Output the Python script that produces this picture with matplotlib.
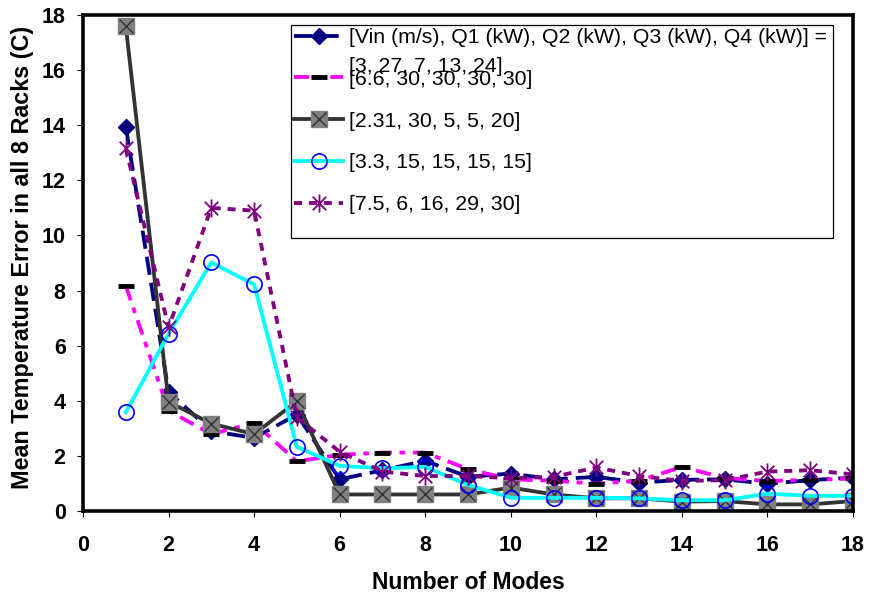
import matplotlib
matplotlib.use("Agg")
import matplotlib.pyplot as plt
from matplotlib.legend_handler import HandlerTuple
from matplotlib.patches import Rectangle
from matplotlib.path import Path

# ==========================================================
# Data
# ==========================================================

modes = list(range(1, 19))

labels = [
    "[Vin (m/s), Q1 (kW), Q2 (kW), Q3 (kW), Q4 (kW)] =",
    "[6.6, 30, 30, 30, 30]",
    "[2.31, 30, 5, 5, 20]",
    "[3.3, 15, 15, 15, 15]",
    "[7.5, 6, 16, 29, 30]",
]
first_label_cont = "[3, 27, 7, 13, 24]"

err_a = [13.95, 4.33, 2.9, 2.65, 3.5, 1.15, 1.48, 1.82, 1.24, 1.36,
         1.15, 1.24, 1.03, 1.13, 1.15, 0.99, 1.12, 1.21]
err_b = [8.17, 3.64, 2.79, 3.2, 1.8, 2.04, 2.12, 2.12, 1.52, 1.15,
         1.1, 0.99, 1.1, 1.6, 1.2, 1.09, 1.13, 1.18]
err_c = [17.6, 3.96, 3.17, 2.79, 3.98, 0.6, 0.6, 0.6, 0.6, 0.85,
         0.6, 0.46, 0.46, 0.34, 0.36, 0.24, 0.24, 0.36]
err_d = [3.58, 6.43, 9.02, 8.22, 2.33, 1.64, 1.55, 1.6, 0.95, 0.48,
         0.48, 0.48, 0.46, 0.39, 0.39, 0.63, 0.55, 0.55]
err_e = [13.17, 6.66, 11.0, 10.9, 3.4, 2.15, 1.43, 1.27, 1.27, 1.19,
         1.24, 1.58, 1.27, 1.09, 1.12, 1.43, 1.48, 1.33]

# ==========================================================
# Style
# ==========================================================

plt.rcParams["font.family"] = ["Liberation Sans", "DejaVu Sans"]

LW = 2.75
LEG_FS = 15.3

# Excel-like asterisk: vertical bar plus an X
star = Path(
    [(0, -1), (0, 1), (-0.75, -0.75), (0.75, 0.75), (-0.75, 0.75), (0.75, -0.75)],
    [Path.MOVETO, Path.LINETO, Path.MOVETO, Path.LINETO, Path.MOVETO, Path.LINETO],
)

fig = plt.figure(figsize=(8.71, 5.98), dpi=100)
ax = fig.add_axes([83 / 871, 1 - 511 / 598, 770 / 871, 496 / 598])

# ==========================================================
# Series
# ==========================================================

l1, = ax.plot(modes, err_a, color="#000080", lw=LW, dashes=(4.8, 2.1),
              marker="D", ms=8, mfc="#000080", mec="#000080")
l2, = ax.plot(modes, err_b, color="#FF00FF", lw=LW, dashes=(4, 2, 1.5, 2),
              marker="_", ms=12, mew=3.5, mec="black")
l3, = ax.plot(modes, err_c, color="#333333", lw=LW, marker="s", ms=11,
              mfc="#808080", mec="#808080")
l3x, = ax.plot(modes, err_c, ls="none", marker="x", ms=10, mew=1,
               mec="#333333")
l4, = ax.plot(modes, err_d, color="#00FFFF", lw=LW, marker="o", ms=11,
              mfc="none", mec="#0000FF", mew=1.2)
l5, = ax.plot(modes, err_e, color="#800080", lw=LW, dashes=(2.1, 1.8),
              marker=star, ms=13, mfc="none", mec="#800080", mew=1.3)

# ==========================================================
# Axes
# ==========================================================

ax.set_xlim(0, 18)
ax.set_ylim(0, 18)
ax.set_xticks(range(0, 19, 2))
ax.set_yticks(range(0, 19, 2))

for spine in ax.spines.values():
    spine.set_linewidth(2.6)

ax.tick_params(axis="both", direction="out", length=4.5, width=0.8,
               labelsize=15.5)
ax.tick_params(axis="x", pad=13)
ax.tick_params(axis="y", pad=8)
for lbl in ax.get_xticklabels() + ax.get_yticklabels():
    lbl.set_fontweight("bold")

ax.set_xlabel("Number of Modes", fontsize=16.5, fontweight="bold")
ax.set_ylabel("Mean Temperature Error in all 8 Racks (C)", fontsize=16.8,
              fontweight="bold")
ax.xaxis.set_label_coords(0.5, (511 - 571) / 496)
ax.yaxis.set_label_coords((34 - 83) / 770, (511 - 257) / 496)

# ==========================================================
# Legend
# ==========================================================

x0, x1 = (291 - 83) / 770, (833 - 83) / 770
y0, y1 = (511 - 238) / 496, (511 - 25) / 496
ax.add_patch(Rectangle((x0, y0), x1 - x0, y1 - y0, transform=ax.transAxes,
                       facecolor="white", edgecolor="black", lw=0.9,
                       zorder=4))

leg = ax.legend(
    [l1, l2, (l3, l3x), l4, l5],
    labels,
    handler_map={tuple: HandlerTuple(ndivide=1)},
    loc="upper left",
    bbox_to_anchor=(x0, y1),
    frameon=False,
    fontsize=LEG_FS,
    handlelength=2.3,
    handletextpad=0.3,
    labelspacing=1.07,
    borderpad=0.15,
    borderaxespad=0,
)
leg.set_zorder(5)

ax.annotate(first_label_cont, xy=(0, 0.5), xycoords=leg.get_texts()[0],
            xytext=(0, -20.5), textcoords="offset points", va="center",
            ha="left", fontsize=LEG_FS, zorder=6)

fig.savefig("out.png", dpi=100)
